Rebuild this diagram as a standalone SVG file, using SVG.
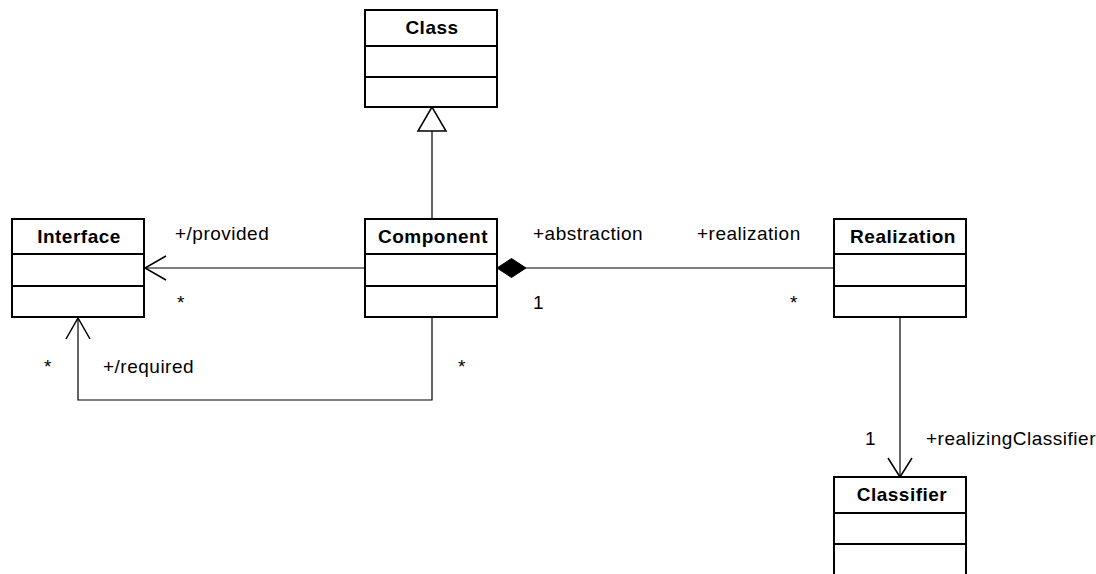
<svg xmlns="http://www.w3.org/2000/svg" width="1096" height="574" viewBox="0 0 1096 574">
  <style>
    .box { fill: #ffffff; stroke: #000000; stroke-width: 2; }
    .div { stroke: #000000; stroke-width: 2; }
    .title { font-family: "Liberation Sans", Arial, sans-serif; font-size: 19px; font-weight: bold; letter-spacing: 0.5px; text-anchor: middle; fill: #000000; }
    .lbl { font-family: "Liberation Sans", Arial, sans-serif; font-size: 19px; letter-spacing: 0.5px; fill: #000000; }
    .edge { fill: none; stroke: #000000; stroke-width: 1.2; }
    .head { fill: none; stroke: #000000; stroke-width: 1.5; }
  </style>
  <rect width="1096" height="574" fill="#ffffff"/>

  <!-- connectors -->
  <g id="connectors">
    <!-- generalization Component -> Class -->
    <line class="edge" x1="432" y1="219" x2="432" y2="131"/>
    <polygon points="432,107 418,131 446,131" fill="#ffffff" stroke="#000000" stroke-width="1.5"/>
    <!-- provided: Component -> Interface -->
    <line class="edge" x1="365" y1="268" x2="145" y2="268"/>
    <polyline class="head" points="166,256 145,268 166,280"/>
    <!-- required: Component -> Interface -->
    <polyline class="edge" points="432,317 432,400 78,400 78,318"/>
    <polyline class="head" points="66,339 78,318 90,339"/>
    <!-- composition Component <>- Realization -->
    <line class="edge" x1="526" y1="268" x2="834" y2="268"/>
    <polygon points="497,268 511.5,258.5 526,268 511.5,277.5" fill="#000000" stroke="#000000" stroke-width="1"/>
    <!-- realizingClassifier: Realization -> Classifier -->
    <line class="edge" x1="900" y1="317" x2="900" y2="477"/>
    <polyline class="head" points="888,458 900,477 912,458"/>
  </g>

  <g id="connector-labels">
    <text class="lbl" x="175" y="240">+/provided</text>
    <text class="lbl" x="177" y="309">*</text>
    <text class="lbl" x="533" y="240">+abstraction</text>
    <text class="lbl" x="533" y="309">1</text>
    <text class="lbl" x="697" y="240">+realization</text>
    <text class="lbl" x="790" y="309">*</text>
    <text class="lbl" x="44" y="373">*</text>
    <text class="lbl" x="103" y="373">+/required</text>
    <text class="lbl" x="458" y="373">*</text>
    <text class="lbl" x="865" y="445">1</text>
    <text class="lbl" x="926" y="445">+realizingClassifier</text>
  </g>

  <g id="node-class">
    <rect class="box" x="365" y="10" width="132" height="97"/>
    <line class="div" x1="365" y1="46" x2="497" y2="46"/>
    <line class="div" x1="365" y1="77" x2="497" y2="77"/>
    <text class="title" x="432" y="34">Class</text>
  </g>

  <g id="node-interface">
    <rect class="box" x="12" y="219" width="132" height="98"/>
    <line class="div" x1="12" y1="254" x2="144" y2="254"/>
    <line class="div" x1="12" y1="286" x2="144" y2="286"/>
    <text class="title" x="79" y="243">Interface</text>
  </g>

  <g id="node-component">
    <rect class="box" x="365" y="219" width="132" height="98"/>
    <line class="div" x1="365" y1="254" x2="497" y2="254"/>
    <line class="div" x1="365" y1="286" x2="497" y2="286"/>
    <text class="title" x="433" y="243">Component</text>
  </g>

  <g id="node-realization">
    <rect class="box" x="834" y="219" width="132" height="98"/>
    <line class="div" x1="834" y1="254" x2="966" y2="254"/>
    <line class="div" x1="834" y1="286" x2="966" y2="286"/>
    <text class="title" x="903" y="243">Realization</text>
  </g>

  <g id="node-classifier">
    <rect class="box" x="834" y="477" width="132" height="98"/>
    <line class="div" x1="834" y1="513" x2="966" y2="513"/>
    <line class="div" x1="834" y1="544" x2="966" y2="544"/>
    <text class="title" x="902" y="501">Classifier</text>
  </g>
</svg>
